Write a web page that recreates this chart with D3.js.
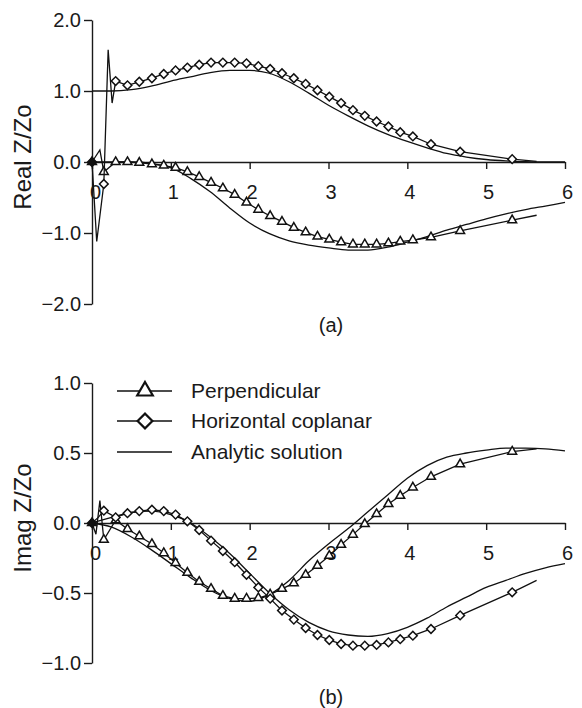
<!DOCTYPE html>
<html lang="en">
  <head>
    <meta charset="UTF-8" />
    <title>Real and Imag Z/Zo</title>
    <style>
      body {
        margin: 0;
        background: #ffffff;
        font-family: Arial, "Liberation Sans", sans-serif;
      }
      .axis path,
      .axis line {
        stroke: #1a1a1a;
        stroke-width: 1.4;
      }
      .axis text {
        font-family: Arial, "Liberation Sans", sans-serif;
        font-size: 20px;
        fill: #1a1a1a;
      }
      .curve {
        fill: none;
        stroke: #111;
        stroke-width: 1.3;
      }
      .marker {
        fill: #fff;
        stroke: #111;
        stroke-width: 1.5;
      }
    </style>
  </head>
  <body>
    <div id="chart"></div>
    <script src="https://d3js.org/d3.v7.min.js"></script>
    <script>
      const width = 582;
      const height = 708;

      // x positions of the measured points (markers)
      const markerX = [0, 0.15, 0.3, 0.45, 0.6, 0.76, 0.91, 1.06, 1.21, 1.36, 1.51, 1.66, 1.81,
        1.96, 2.11, 2.26, 2.41, 2.56, 2.71, 2.86, 3.01, 3.16, 3.31, 3.46, 3.61, 3.76, 3.91,
        4.07, 4.3, 4.67, 5.33];

      // (a) real part
      const realPerp = [0, -0.14, 0.0, 0.0, -0.01, -0.03, -0.05, -0.08, -0.14, -0.21, -0.29,
        -0.37, -0.46, -0.57, -0.67, -0.76, -0.84, -0.925, -0.99, -1.05, -1.09, -1.13, -1.16,
        -1.16, -1.16, -1.145, -1.12, -1.1, -1.06, -0.97, -0.82];
      const realHoriz = [0, -0.31, 1.14, 1.08, 1.13, 1.18, 1.24, 1.29, 1.33, 1.37, 1.4, 1.4,
        1.4, 1.39, 1.35, 1.31, 1.25, 1.18, 1.1, 1.01, 0.92, 0.83, 0.73, 0.65, 0.57, 0.5, 0.42,
        0.36, 0.25, 0.145, 0.04];
      // extra line points without markers (start-up spikes, tails)
      const realPerpExtraX = [0.1, 5.64];
      const realPerpExtraY = [0.17, -0.75];
      const realHorizExtraX = [0.06, 0.205, 0.255, 5.64];
      const realHorizExtraY = [-1.12, 1.58, 0.83, 0.01];

      // (b) imaginary part
      const imagPerp = [0, -0.12, 0.02, -0.043, -0.095, -0.15, -0.215, -0.285, -0.355, -0.42,
        -0.47, -0.52, -0.54, -0.54, -0.536, -0.51, -0.47, -0.43, -0.37, -0.305, -0.234, -0.155,
        -0.083, -0.007, 0.064, 0.136, 0.195, 0.254, 0.33, 0.42, 0.51];
      const imagHoriz = [0, 0.088, 0.04, 0.07, 0.085, 0.095, 0.085, 0.06, 0.012, -0.05, -0.126,
        -0.2, -0.28, -0.37, -0.46, -0.54, -0.625, -0.69, -0.75, -0.8, -0.836, -0.864, -0.876,
        -0.876, -0.871, -0.853, -0.83, -0.805, -0.757, -0.66, -0.495];
      const imagPerpExtraX = [0.05, 0.1, 5.64];
      const imagPerpExtraY = [-0.08, 0.16, 0.53];
      const imagHorizExtraX = [0.08, 5.64];
      const imagHorizExtraY = [0.04, -0.41];

      // analytic solution
      const analyticX = [0, 0.25, 0.5, 0.75, 1, 1.25, 1.5, 1.75, 2, 2.25, 2.5, 2.75, 3, 3.25,
        3.5, 3.75, 4, 4.25, 4.5, 4.75, 5, 5.25, 5.5, 5.75, 6];
      const anRealHoriz = [1.0, 1.0, 1.02, 1.07, 1.14, 1.2, 1.26, 1.29, 1.29, 1.25, 1.13, 0.97,
        0.8, 0.65, 0.51, 0.39, 0.29, 0.2, 0.12, 0.07, 0.035, 0.015, 0.005, 0.0, 0.0];
      const anRealPerp = [0, 0, 0, -0.02, -0.08, -0.23, -0.42, -0.65, -0.86, -1.01, -1.11,
        -1.17, -1.21, -1.24, -1.24, -1.2, -1.13, -1.05, -0.96, -0.88, -0.8, -0.73, -0.67,
        -0.62, -0.57];
      const anImagPerp = [0, -0.03, -0.1, -0.19, -0.29, -0.39, -0.48, -0.54, -0.56, -0.51,
        -0.41, -0.27, -0.15, -0.04, 0.08, 0.2, 0.32, 0.41, 0.47, 0.5, 0.52, 0.535, 0.535, 0.53,
        0.515];
      const anImagHoriz = [0, 0.04, 0.075, 0.085, 0.06, 0.0, -0.1, -0.22, -0.36, -0.5, -0.62,
        -0.71, -0.77, -0.8, -0.81, -0.79, -0.745, -0.68, -0.6, -0.53, -0.46, -0.41, -0.36,
        -0.32, -0.29];

      const xTicks = [0, 1, 2, 3, 4, 5, 6];
      const realTicks = [2, 1, 0, -1, -2];
      const imagTicks = [1, 0.5, 0, -0.5, -1];
      const legendLabels = ["Perpendicular", "Horizontal coplanar", "Analytic solution"];

      const svg = d3
        .select("#chart")
        .append("svg")
        .attr("width", width)
        .attr("height", height);

      const x = d3.scaleLinear().domain([0, 6]).range([92, 565]);

      const tri = d3.symbol().type(d3.symbolTriangle).size(34);
      const dia = d3.symbol().type(d3.symbolSquare).size(38);

      function zip(xs, ys) {
        return xs.map((v, i) => [v, ys[i]]);
      }

      function drawPanel(opts) {
        const y = d3.scaleLinear().domain(opts.domain).range(opts.range);
        const g = svg.append("g");

        // y axis
        g.append("g")
          .attr("class", "axis")
          .attr("transform", "translate(92,0)")
          .call(
            d3
              .axisLeft(y)
              .tickValues(opts.ticks)
              .tickSize(8)
              .tickSizeOuter(0)
              .tickPadding(3)
              .tickFormat(d3.format(".1f"))
          );

        // x axis along y = 0
        const xa = g
          .append("g")
          .attr("class", "axis")
          .attr("transform", `translate(0,${y(0)})`)
          .call(
            d3
              .axisBottom(x)
              .tickValues(xTicks)
              .tickSize(7)
              .tickSizeOuter(0)
              .tickPadding(16)
              .tickFormat(d3.format("d"))
          );
        xa.selectAll(".tick text").attr("dx", (d) => (d === 0 ? 3 : 2));

        const line = d3
          .line()
          .x((d) => x(d[0]))
          .y((d) => y(d[1]));
        const smooth = d3
          .line()
          .curve(d3.curveMonotoneX)
          .x((d) => x(d[0]))
          .y((d) => y(d[1]));

        // analytic curves
        opts.analytic.forEach((ys) => {
          g.append("path")
            .attr("class", "curve")
            .attr("d", smooth(zip(analyticX, ys)));
        });

        // measured curves with markers
        opts.series.forEach((s) => {
          const pts = zip(markerX, s.y)
            .concat(zip(s.extraX, s.extraY))
            .sort((a, b) => a[0] - b[0]);
          g.append("path").attr("class", "curve").attr("d", line(pts));
          g.selectAll(null)
            .data(zip(markerX, s.y))
            .enter()
            .append("path")
            .attr("class", "marker")
            .attr("d", s.symbol)
            .attr(
              "transform",
              (d) => `translate(${x(d[0])},${y(d[1])})` + (s.rotate ? " rotate(45)" : "")
            )
            .style("fill", (d, i) => (i === 0 ? "#111" : "#fff"));
        });

        // axis title
        svg
          .append("text")
          .attr("transform", `translate(31,${opts.titleY}) rotate(-90)`)
          .attr("text-anchor", "middle")
          .style("font-size", "24px")
          .style("fill", "#1a1a1a")
          .text(opts.title);

        // panel label
        svg
          .append("text")
          .attr("x", 331)
          .attr("y", opts.labelY)
          .attr("text-anchor", "middle")
          .style("font-size", "20px")
          .style("fill", "#1a1a1a")
          .text(opts.label);

        return y;
      }

      drawPanel({
        domain: [-2, 2],
        range: [304, 20],
        ticks: realTicks,
        title: "Real Z/Zo",
        titleY: 157,
        label: "(a)",
        labelY: 332,
        analytic: [anRealHoriz, anRealPerp],
        series: [
          { y: realPerp, extraX: realPerpExtraX, extraY: realPerpExtraY, symbol: tri },
          {
            y: realHoriz,
            extraX: realHorizExtraX,
            extraY: realHorizExtraY,
            symbol: dia,
            rotate: true,
          },
        ],
      });

      drawPanel({
        domain: [-1, 1],
        range: [663, 383],
        ticks: imagTicks,
        title: "Imag Z/Zo",
        titleY: 518,
        label: "(b)",
        labelY: 704,
        analytic: [anImagPerp, anImagHoriz],
        series: [
          { y: imagPerp, extraX: imagPerpExtraX, extraY: imagPerpExtraY, symbol: tri },
          {
            y: imagHoriz,
            extraX: imagHorizExtraX,
            extraY: imagHorizExtraY,
            symbol: dia,
            rotate: true,
          },
        ],
      });

      // legend
      const legendY = [391, 421, 452];
      const legendSymbols = [
        d3.symbol().type(d3.symbolTriangle).size(105),
        d3.symbol().type(d3.symbolSquare).size(110),
        null,
      ];
      const legend = svg
        .selectAll(".legend")
        .data(legendLabels)
        .enter()
        .append("g")
        .attr("class", "legend")
        .attr("transform", (d, i) => `translate(0,${legendY[i]})`);
      legend
        .append("line")
        .attr("x1", 117)
        .attr("x2", 172)
        .attr("stroke", "#111")
        .attr("stroke-width", 1.3);
      legend
        .filter((d, i) => legendSymbols[i] !== null)
        .append("path")
        .attr("d", (d, i) => legendSymbols[i]())
        .attr("transform", (d, i) => "translate(145,0)" + (i === 1 ? " rotate(45)" : ""))
        .attr("fill", "#fff")
        .attr("stroke", "#111")
        .attr("stroke-width", 2.2);
      legend
        .append("text")
        .attr("x", 191)
        .attr("dy", "0.35em")
        .style("font-size", "21px")
        .style("fill", "#1a1a1a")
        .text((d) => d);
    </script>
  </body>
</html>
